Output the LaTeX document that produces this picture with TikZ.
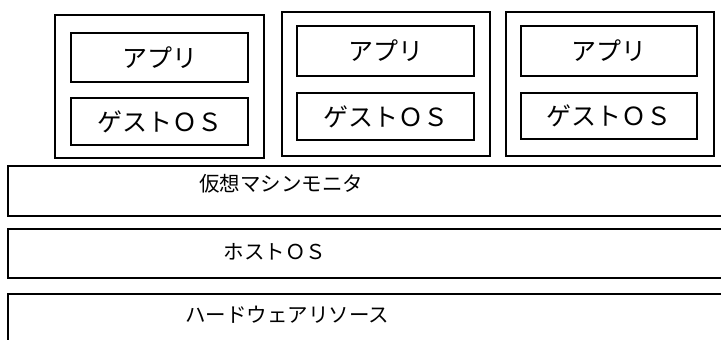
\documentclass[tikz,border=0pt]{standalone}
\usepackage{fontspec}
\setmainfont{Noto Sans CJK JP}
\begin{document}
\begin{tikzpicture}[x=1pt,y=-1pt,
  box/.style={draw,line width=1.5pt,inner sep=0pt,font=\fontsize{25}{28}\selectfont},
  lbl/.style={inner sep=0pt,font=\fontsize{20.5}{24}\selectfont}]
\useasboundingbox (0,0) rectangle (721,340);
\clip (0,0) rectangle (721,340);
% virtual machines
\node[box,minimum width=209pt,minimum height=143pt] (vm1) at (159.5,86.5) {};
\node[box,minimum width=208pt,minimum height=144pt] (vm2) at (386,84) {};
\node[box,minimum width=208pt,minimum height=144pt] (vm3) at (610,84) {};
\node[box,minimum width=177pt,minimum height=49pt] (app1) at (159.5,57.5) {アプリ};
\node[box,minimum width=177pt,minimum height=47pt] (os1) at (159.5,121.5) {ゲストＯＳ};
\node[box,minimum width=177pt,minimum height=50pt] (app2) at (385.5,51) {アプリ};
\node[box,minimum width=177pt,minimum height=47pt] (os2) at (385.5,116.5) {ゲストＯＳ};
\node[box,minimum width=176pt,minimum height=50pt] (app3) at (609,51) {アプリ};
\node[box,minimum width=176pt,minimum height=46pt] (os3) at (609,116) {ゲストＯＳ};
% layers
\draw[line width=1.5pt] (8,166) rectangle (760,216);
\node[lbl] (vmm) at (281,184) {仮想マシンモニタ};
\draw[line width=1.5pt] (8,229) rectangle (760,278);
\node[lbl] (host) at (275,252) {ホストＯＳ};
\draw[line width=1.5pt] (8,294) rectangle (760,360);
\node[lbl] (hw) at (287,315) {ハードウェアリソース};
\end{tikzpicture}
\end{document}
